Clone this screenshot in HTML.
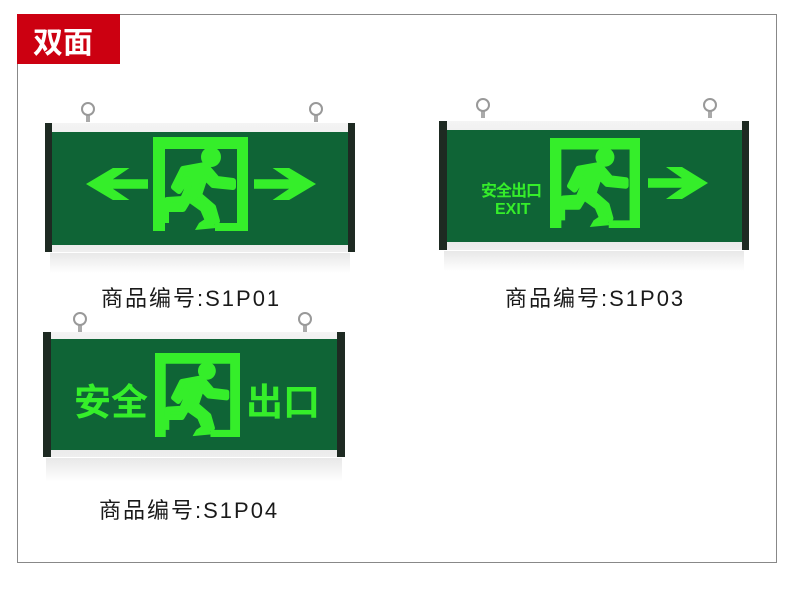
<!DOCTYPE html>
<html><head><meta charset="utf-8"><style>
body{margin:0;width:790px;height:603px;background:#fff;position:relative;overflow:hidden;font-family:"Liberation Sans","Noto Sans CJK SC",sans-serif}
.a{position:absolute}
.frame{position:absolute;border:1px solid #888}
.rail{position:absolute;background:linear-gradient(#f4f4f4,#d8d8d8 60%,#eee)}
.cap{position:absolute;background:#1e2a22}
.green{position:absolute;background:#0f6436}
.ring{position:absolute;width:10px;height:10px;border:2px solid #999;border-radius:50%;}
.stem{position:absolute;width:4px;height:8px;background:#aaa}
.lbl{position:absolute;font-size:22px;color:#1a1a1a;white-space:nowrap;letter-spacing:2px}
.gt{position:absolute;color:#35ee2a;font-weight:bold;white-space:nowrap}
.refl{position:absolute;background:linear-gradient(#e8e8e8,#fff)}
</style></head><body>
<div class="frame" style="left:17px;top:14px;width:758px;height:547px"></div>
<div class="a" style="left:17px;top:14px;width:103px;height:50px;background:#cc0011"></div>
<div class="a" style="left:33px;top:18px;font-size:30px;font-weight:bold;color:#fff">双面</div>

<svg width="0" height="0" style="position:absolute"><defs>
<g id="door">
<path d="M0 0H95V94H62V86H84V12H12V70H16V86H12V94H0Z" fill="#35ee2a"/>
<circle cx="58" cy="20" r="10" fill="#35ee2a"/>
<path d="M30 32L52 28L64 42L80 44L80 50L60 48L52 40L46 58L60 70L64 84L56 86L50 72L36 62L30 72L14 72L14 63L30 62L36 48L34 42L26 54L21 50Z" fill="#35ee2a" stroke="#35ee2a" stroke-width="6" stroke-linejoin="round"/>
<path d="M46 86L58 78L63 91L42 93Z" fill="#35ee2a"/>
</g>
<path id="la" d="M0 10L13 0H21L13 7H30V13H13L21 20H13Z" fill="#35ee2a"/>
<path id="ra" d="M30 10L17 0H9L17 7H0V13H17L9 20H17Z" fill="#35ee2a"/>
</defs></svg>

<!-- Sign 1 -->
<div class="stem" style="left:86px;top:114px"></div><div class="ring" style="left:81px;top:102px"></div>
<div class="stem" style="left:314px;top:114px"></div><div class="ring" style="left:309px;top:102px"></div>
<div class="rail" style="left:45px;top:123px;width:310px;height:129px"></div>
<div class="green" style="left:52px;top:132px;width:296px;height:113px"></div>
<div class="cap" style="left:45px;top:123px;width:7px;height:129px"></div>
<div class="cap" style="left:348px;top:123px;width:7px;height:129px"></div>
<div class="refl" style="left:50px;top:253px;width:300px;height:20px"></div>
<svg class="a" style="left:153px;top:137px" width="95" height="94"><use href="#door"/></svg>
<svg class="a" style="left:86px;top:168px" width="62" height="32" viewBox="0 0 30 20" preserveAspectRatio="none"><use href="#la"/></svg>
<svg class="a" style="left:254px;top:168px" width="62" height="32" viewBox="0 0 30 20" preserveAspectRatio="none"><use href="#ra"/></svg>
<div class="lbl" style="left:101px;top:281px">商品编号:S1P01</div>

<!-- Sign 2 -->
<div class="stem" style="left:481px;top:110px"></div><div class="ring" style="left:476px;top:98px"></div>
<div class="stem" style="left:708px;top:110px"></div><div class="ring" style="left:703px;top:98px"></div>
<div class="rail" style="left:439px;top:121px;width:310px;height:129px"></div>
<div class="green" style="left:447px;top:130px;width:295px;height:112px"></div>
<div class="cap" style="left:439px;top:121px;width:8px;height:129px"></div>
<div class="cap" style="left:742px;top:121px;width:7px;height:129px"></div>
<div class="refl" style="left:444px;top:251px;width:300px;height:20px"></div>
<svg class="a" style="left:550px;top:138px" width="90" height="90" viewBox="0 0 95 94" preserveAspectRatio="none"><use href="#door"/></svg>
<div class="gt" style="left:481px;top:177px;font-size:16px;letter-spacing:-1px">安全出口</div>
<div class="gt" style="left:495px;top:201px;font-size:16px">EXIT</div>
<svg class="a" style="left:648px;top:167px" width="60" height="32" viewBox="0 0 30 20" preserveAspectRatio="none"><use href="#ra"/></svg>
<div class="lbl" style="left:505px;top:281px">商品编号:S1P03</div>

<!-- Sign 3 -->
<div class="stem" style="left:78px;top:324px"></div><div class="ring" style="left:73px;top:312px"></div>
<div class="stem" style="left:303px;top:324px"></div><div class="ring" style="left:298px;top:312px"></div>
<div class="rail" style="left:43px;top:332px;width:302px;height:125px"></div>
<div class="green" style="left:51px;top:339px;width:286px;height:111px"></div>
<div class="cap" style="left:43px;top:332px;width:8px;height:125px"></div>
<div class="cap" style="left:337px;top:332px;width:8px;height:125px"></div>
<div class="refl" style="left:46px;top:458px;width:296px;height:24px"></div>
<svg class="a" style="left:155px;top:353px" width="85" height="84" viewBox="0 0 95 94" preserveAspectRatio="none"><use href="#door"/></svg>
<div class="gt" style="left:74px;top:372px;font-size:37px">安全</div>
<div class="gt" style="left:246px;top:372px;font-size:37px">出口</div>
<div class="lbl" style="left:99px;top:493px">商品编号:S1P04</div>
</body></html>
